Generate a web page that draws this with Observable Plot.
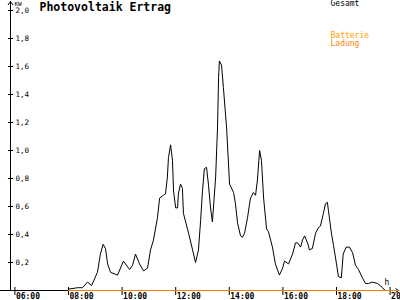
<!DOCTYPE html>
<html><head><meta charset="utf-8">
<script src="https://cdn.jsdelivr.net/npm/d3@7"></script>
<script src="https://cdn.jsdelivr.net/npm/@observablehq/plot@0.6"></script>
<style>html,body{margin:0;padding:0;background:#fff;overflow:hidden}</style>
</head><body><div id="chart"></div>
<script>
// Gesamt (kW) over time of day (hours)
const hours = [8.00,8.34,8.52,8.71,8.86,9.08,9.19,9.29,9.38,9.46,9.57,9.83,10.05,10.28,10.39,10.50,10.65,10.80,10.95,11.06,11.17,11.32,11.40,11.54,11.62,11.69,11.73,11.81,11.88,11.92,12.00,12.07,12.10,12.18,12.25,12.29,12.44,12.48,12.63,12.74,12.85,12.93,13.00,13.07,13.15,13.22,13.30,13.37,13.49,13.56,13.60,13.63,13.71,13.78,13.90,14.01,14.16,14.23,14.31,14.42,14.49,14.57,14.68,14.79,14.90,14.98,15.05,15.13,15.20,15.28,15.39,15.46,15.61,15.72,15.87,15.99,16.06,16.21,16.36,16.47,16.55,16.66,16.73,16.81,16.92,16.99,17.10,17.22,17.33,17.40,17.51,17.59,17.66,17.70,17.81,17.89,18.00,18.07,18.18,18.25,18.36,18.48,18.60,18.71,18.82,18.97,19.08,19.19,19.34,19.53,19.72,19.79];
const gesamt = [0.01,0.02,0.02,0.06,0.035,0.13,0.26,0.33,0.30,0.19,0.13,0.11,0.21,0.15,0.18,0.26,0.19,0.14,0.16,0.29,0.36,0.52,0.66,0.68,0.69,0.81,0.95,1.04,0.93,0.71,0.59,0.59,0.69,0.76,0.73,0.55,0.44,0.41,0.29,0.20,0.29,0.50,0.71,0.87,0.88,0.76,0.59,0.49,0.81,1.16,1.52,1.64,1.61,1.45,1.16,0.76,0.70,0.62,0.48,0.39,0.38,0.41,0.52,0.66,0.70,0.68,0.79,1.00,0.93,0.66,0.44,0.42,0.31,0.19,0.11,0.16,0.21,0.19,0.26,0.34,0.34,0.31,0.36,0.39,0.34,0.29,0.30,0.41,0.45,0.46,0.55,0.62,0.63,0.57,0.41,0.32,0.19,0.10,0.09,0.26,0.31,0.31,0.27,0.18,0.15,0.09,0.05,0.05,0.06,0.05,0.02,0.005];
// Batterie Ladung (kW)
const ladungHours = [8.0, 20.3];
const ladung = [0, 0];
// ticks
const xTicks = [6, 8, 10, 12, 14, 16, 18, 20];
const xTickLabels = ["06:00","08:00","10:00","12:00","14:00","16:00","18:00","20:00"];
const yTicks = [0.2, 0.4, 0.6, 0.8, 1.0, 1.2, 1.4, 1.6, 1.8, 2.0];
const yTickLabels = ["0,2","0,4","0,6","0,8","1,0","1,2","1,4","1,6","1,8","2,0"];

const X0 = 5.463, X1 = 20.388, Y0 = -0.0714, Y1 = 2.0714;
const pxX = 1 / 26.8;      // hours per pixel
const pxY = 1 / 140;       // kW per pixel
const xAxisAt = X0 + 10 * pxX;

const gData = hours.map((h, i) => ({h, v: gesamt[i]}));
const lData = ladungHours.map((h, i) => ({h, v: ladung[i]}));

const chart = Plot.plot({
  width: 400, height: 300, margin: 0,
  x: {domain: [X0, X1], axis: null},
  y: {domain: [Y0, Y1], axis: null},
  style: {fontFamily: "DejaVu Sans Mono", background: "white", color: "black"},
  marks: [
    Plot.ruleY([0], {x1: X0, x2: X1 - 4 * pxX, stroke: "black"}),
    Plot.arrow([0], {x1: X1 - 12 * pxX, y1: 0, x2: X1 - 2 * pxX, y2: 0, stroke: "black", headLength: 7, headAngle: 70, strokeWidth: 1}),
    Plot.arrow([0], {x1: xAxisAt, y1: 0, x2: xAxisAt, y2: Y1 - 1 * pxY, stroke: "black", headLength: 6, headAngle: 70, strokeWidth: 1}),
    Plot.ruleY(yTicks, {y: d => d, x1: xAxisAt - 2 * pxX, x2: xAxisAt + 3 * pxX, stroke: "black"}),
    Plot.text(yTicks, {x: xAxisAt, y: d => d, text: (d, i) => yTickLabels[i], dx: 5, textAnchor: "start", fontSize: 7.5, fill: "black"}),
    Plot.ruleX(xTicks, {x: d => d, y1: -5 * pxY, y2: 3 * pxY, stroke: "black"}),
    Plot.text(xTicks, {x: d => d, y: 0, text: (d, i) => xTickLabels[i], dx: 1, dy: 6, textAnchor: "start", fontSize: 8, fontWeight: "bold", fill: "black"}),
    Plot.line(gData, {x: "h", y: "v", stroke: "black", strokeWidth: 1}),
    Plot.line(lData, {x: "h", y: "v", stroke: "#ff8000", strokeWidth: 1.2}),
    Plot.text(["Photovoltaik Ertrag"], {frameAnchor: "top-left", dx: 39, dy: 2, textAnchor: "start", lineAnchor: "top", fontSize: 11.5, fontWeight: "bold", fill: "black"}),
    Plot.text(["KW"], {frameAnchor: "top-left", dx: 14, dy: 1, textAnchor: "start", lineAnchor: "top", fontSize: 6, fill: "black"}),
    Plot.text(["Gesamt"], {frameAnchor: "top-left", dx: 330, dy: 0, textAnchor: "start", lineAnchor: "top", fontSize: 8, fill: "black"}),
    Plot.text(["Batterie"], {frameAnchor: "top-left", dx: 330, dy: 32, textAnchor: "start", lineAnchor: "top", fontSize: 8, fill: "#ffa000"}),
    Plot.text(["Ladung"], {frameAnchor: "top-left", dx: 330, dy: 40, textAnchor: "start", lineAnchor: "top", fontSize: 8, fill: "#ff7f00"}),
    Plot.text(["h"], {frameAnchor: "top-left", dx: 384, dy: 279, textAnchor: "start", lineAnchor: "top", fontSize: 8, fill: "black"})
  ]
});
document.getElementById("chart").appendChild(chart);
</script>
</body></html>
